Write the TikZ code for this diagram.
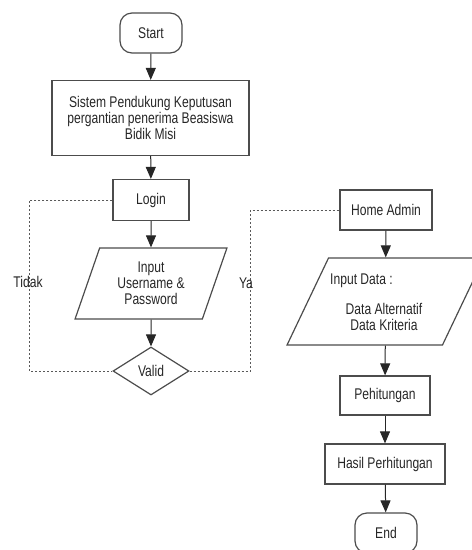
\documentclass[tikz,border=0pt]{standalone}
\usepackage{fontspec}
\setmainfont[FakeStretch=0.78]{Liberation Sans}
\usetikzlibrary{shapes.geometric,arrows.meta,positioning}
\tikzset{
  base/.style={draw=black!70, line width=1.2pt, text=black!85,
    font=\fontsize{15.5}{16}\selectfont, align=center, inner sep=0pt},
  term/.style={base, rounded corners=12pt, minimum width=62pt, minimum height=40pt},
  proc/.style={base, rectangle, minimum height=40pt},
  io/.style={base, trapezium, trapezium left angle=70, trapezium right angle=110,
    trapezium stretches=true, inner sep=2pt},
  dec/.style={base, diamond, aspect=1.6, minimum width=76pt, minimum height=48pt},
  flow/.style={-{Triangle[length=12pt,width=10pt]}, line width=1pt, black!85},
  dotline/.style={line width=1pt, black!65, dash pattern=on 2pt off 2pt},
  lbl/.style={text=black!85, font=\fontsize{15.5}{16}\selectfont, inner sep=0pt}
}
\begin{document}
\begin{tikzpicture}[x=1pt,y=-1pt]
\useasboundingbox (0,0) rectangle (472,550);

% left column
\node[term] (start) at (151,33) {Start};
\node[proc, minimum width=197pt, minimum height=75pt] (sys) at (150.5,118)
  {Sistem Pendukung Keputusan\\pergantian penerima Beasiswa\\Bidik Misi};
\node[proc, minimum width=76pt, minimum height=41pt] (login) at (151,200) {Login};
\node[io, minimum width=152pt, minimum height=71pt] (inpuser) at (151,283.5)
  {Input\\Username \&\\Password};
\node[dec] (valid) at (151,371) {Valid};

% right column
\node[proc, minimum width=92pt] (home) at (386,210) {Home Admin};
\node[io, minimum width=197pt, minimum height=87pt] (inpdata) at (385.5,301.5) {};
\node[lbl] (inphead) at (361.5,281) {Input Data :};
\node[lbl, align=center] (inpitems) at (384,317) {Data Alternatif\\Data Kriteria};
\node[proc, minimum width=90pt, minimum height=39pt] (hitung) at (385,395.5) {Pehitungan};
\node[proc, minimum width=120pt] (hasil) at (385,464) {Hasil Perhitungan};
\node[term] (finish) at (386,533) {End};

\draw[flow] (start) -- (sys);
\draw[flow] (sys) -- (login);
\draw[flow] (login) -- (inpuser);
\draw[flow] (inpuser) -- (valid);
\draw[flow] (home) -- (inpdata);
\draw[flow] (inpdata) -- (hitung);
\draw[flow] (hitung) -- (hasil);
\draw[flow] (hasil) -- (finish);

% yes / no branches
\draw[dotline] (login.west) -- ++(-83,0) coordinate (tdk) |- (valid.west);
\draw[dotline] (valid.east) -- ++(61,0) coordinate (ya) |- (home.west);
\node[lbl] (tidaklbl) at (28,282) {Tidak};
\node[lbl] (yalbl) at (246,283) {Ya};
\end{tikzpicture}
\end{document}
